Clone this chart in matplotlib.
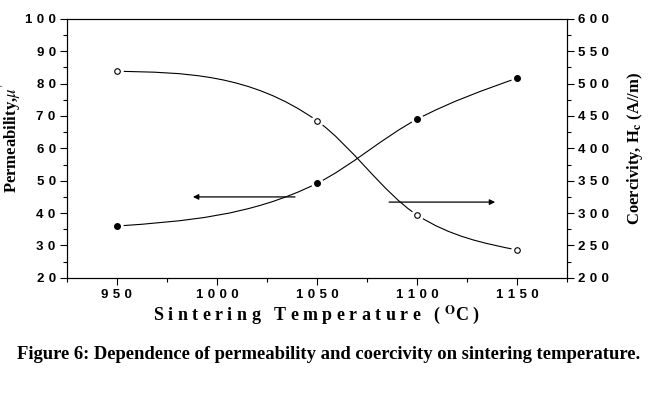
import numpy as np
import matplotlib
matplotlib.use("Agg")
import matplotlib.pyplot as plt
from matplotlib.path import Path
from matplotlib.patches import PathPatch

# data
temp = [950, 1050, 1100, 1150]
perm = [36.0, 49.2, 69.0, 81.7]          # left axis, filled markers
coer = [519.0, 442.5, 297.0, 243.0]      # right axis, open markers

yticks_left = [20, 30, 40, 50, 60, 70, 80, 90, 100]
yticks_right = [200, 250, 300, 350, 400, 450, 500, 550, 600]
xticks = [950, 1000, 1050, 1100, 1150]

plt.rcParams['mathtext.fontset'] = 'stix'


def spaced(v):
    # tick labels with wide letter spacing like the original
    return '\u2004'.join(str(int(v)))


def smooth_path(x, y):
    # cubic bezier through the points (natural-end hermite tangents)
    x = np.asarray(x, float)
    y = np.asarray(y, float)
    h = np.diff(x)
    d = np.diff(y) / h
    n = len(x)
    m = np.zeros(n)
    for i in range(1, n - 1):
        m[i] = (d[i - 1] * h[i] + d[i] * h[i - 1]) / (h[i - 1] + h[i])
    m[0] = (3 * d[0] - m[1]) / 2
    m[-1] = (3 * d[-1] - m[-2]) / 2
    verts = [(x[0], y[0])]
    codes = [Path.MOVETO]
    for i in range(n - 1):
        verts += [(x[i] + h[i] / 3, y[i] + m[i] * h[i] / 3),
                  (x[i + 1] - h[i] / 3, y[i + 1] - m[i + 1] * h[i] / 3),
                  (x[i + 1], y[i + 1])]
        codes += [Path.CURVE4] * 3
    return Path(verts, codes)


fig = plt.figure(figsize=(6.55, 3.93), dpi=100)
ax = fig.add_axes([0.102, 0.293, 0.764, 0.659])
ax2 = ax.twinx()

# permeability (left)
ax.add_patch(PathPatch(smooth_path(temp, perm), fill=False, lw=0.8, color='black'))
ax.plot(temp, perm, 'o', ms=8, color='white', zorder=3)
ax.plot(temp, perm, 'o', ms=4, color='black', zorder=4)

# coercivity (right)
ax2.add_patch(PathPatch(smooth_path(temp, coer), fill=False, lw=0.8, color='black'))
ax2.plot(temp, coer, 'o', ms=8, color='white', zorder=3)
ax2.plot(temp, coer, 'o', ms=4, mfc='white', mec='black', mew=0.8, zorder=4)

# arrows pointing to the axes
ax.annotate('', xy=(988, 45), xytext=(1039, 45),
            arrowprops=dict(arrowstyle='-|>', color='black', lw=0.9,
                            mutation_scale=8, shrinkA=0, shrinkB=0))
ax2.annotate('', xy=(1139, 317), xytext=(1086, 317),
             arrowprops=dict(arrowstyle='-|>', color='black', lw=0.9,
                             mutation_scale=8, shrinkA=0, shrinkB=0))

ax.set_xlim(925, 1175)
ax.set_ylim(20, 100)
ax2.set_ylim(200, 600)

tickfont = dict(family=['Liberation Sans', 'DejaVu Sans'], weight='bold', size=9.5)
ax.set_xticks(xticks)
ax.set_xticklabels([spaced(v) for v in xticks], **tickfont)
ax.set_xticks(np.arange(925, 1176, 25), minor=True)
ax.set_yticks(yticks_left)
ax.set_yticklabels([spaced(v) for v in yticks_left], **tickfont)
ax.set_yticks(np.arange(20, 101, 5), minor=True)
ax2.set_yticks(yticks_right)
ax2.set_yticklabels([spaced(v) for v in yticks_right], **tickfont)
ax2.set_yticks(np.arange(200, 601, 25), minor=True)

for a in (ax, ax2):
    a.tick_params(which='both', direction='out', width=0.8, color='black')
    a.tick_params(which='major', length=5, pad=3)
    a.tick_params(which='minor', length=3)
    for s in a.spines.values():
        s.set_linewidth(0.8)

serif = ['Liberation Serif', 'DejaVu Serif']
ax.set_xlabel(r'S i n t e r i n g   T e m p e r a t u r e   ( $^{\mathbf{O}}$C )',
              family=serif, weight='bold', size=13, labelpad=2)
ax.set_ylabel(r"Permeability,$\mu'$", family=serif, weight='bold', size=12)
ax.yaxis.set_label_coords(-0.088, 0.54)
ax2.set_ylabel(r'Coercivity, H$_{\mathbf{c}}$ (A//m)', family=serif, weight='bold',
               size=12)
ax2.yaxis.set_label_coords(1.115, 0.5)

fig.text(0.502, 0.097,
         'Figure 6: Dependence of permeability and coercivity on sintering temperature.',
         ha='center', va='center', family=serif, weight='bold', size=13.4)

fig.savefig('out.png', dpi=100)
